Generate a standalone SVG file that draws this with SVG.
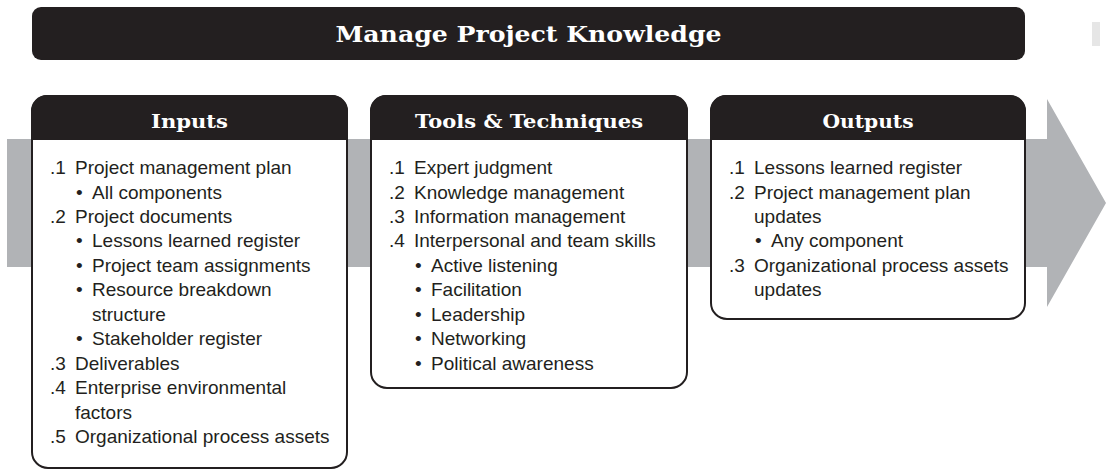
<svg xmlns="http://www.w3.org/2000/svg" width="1106" height="470" viewBox="0 0 1106 470">
<style>
.hd{font-family:"DejaVu Serif","Liberation Serif",serif;font-weight:bold;fill:#fff;text-anchor:middle}
.t{font-family:"Liberation Sans",Arial,sans-serif;font-size:19px;fill:#231f20}
.box{fill:#fff;stroke:#231f20;stroke-width:2}
.hbar{fill:#231f20}
</style>
<rect width="1106" height="470" fill="#fff"/>
<rect x="1092" y="22" width="8" height="24" fill="#e6e6e6"/>
<g id="connectors">
<polygon points="7,139 1047,139 1047,99 1106,203 1047,307 1047,267 7,267" fill="#b1b3b6"/>
</g>
<g id="title">
<rect x="32" y="7" width="993" height="53" rx="9" fill="#231f20"/>
<text class="hd" x="528.5" y="42" font-size="22" textLength="386" lengthAdjust="spacingAndGlyphs">Manage Project Knowledge</text>
</g>
<g id="inputs">
<rect class="box" x="32" y="96" width="315" height="372" rx="16"/>
<path class="hbar" d="M31,140 V112 A16,16 0 0 1 47,95 H332 A16,16 0 0 1 348,112 V140 Z"/>
<text class="hd" x="189.5" y="128" font-size="18" textLength="77" lengthAdjust="spacingAndGlyphs">Inputs</text>
<text class="t" x="50" y="174">.1</text><text class="t" x="75" y="174">Project management plan</text>
<text class="t" x="76" y="198.5">•</text><text class="t" x="92" y="198.5">All components</text>
<text class="t" x="50" y="223">.2</text><text class="t" x="75" y="223">Project documents</text>
<text class="t" x="76" y="247.4">•</text><text class="t" x="92" y="247.4">Lessons learned register</text>
<text class="t" x="76" y="271.8">•</text><text class="t" x="92" y="271.8">Project team assignments</text>
<text class="t" x="76" y="296.3">•</text><text class="t" x="92" y="296.3">Resource breakdown</text>
<text class="t" x="92" y="320.7">structure</text>
<text class="t" x="76" y="345.2">•</text><text class="t" x="92" y="345.2">Stakeholder register</text>
<text class="t" x="50" y="369.6">.3</text><text class="t" x="75" y="369.6">Deliverables</text>
<text class="t" x="50" y="394">.4</text><text class="t" x="75" y="394">Enterprise environmental</text>
<text class="t" x="75" y="418.5">factors</text>
<text class="t" x="50" y="443">.5</text><text class="t" x="75" y="443">Organizational process assets</text>
</g>
<g id="tools">
<rect class="box" x="371" y="96" width="316" height="292" rx="16"/>
<path class="hbar" d="M370,140 V112 A16,16 0 0 1 386,95 H672 A16,16 0 0 1 688,112 V140 Z"/>
<text class="hd" x="529" y="128" font-size="18" textLength="228" lengthAdjust="spacingAndGlyphs">Tools &amp; Techniques</text>
<text class="t" x="389" y="174">.1</text><text class="t" x="414" y="174">Expert judgment</text>
<text class="t" x="389" y="198.5">.2</text><text class="t" x="414" y="198.5">Knowledge management</text>
<text class="t" x="389" y="223">.3</text><text class="t" x="414" y="223">Information management</text>
<text class="t" x="389" y="247.4">.4</text><text class="t" x="414" y="247.4">Interpersonal and team skills</text>
<text class="t" x="415" y="271.8">•</text><text class="t" x="431" y="271.8">Active listening</text>
<text class="t" x="415" y="296.3">•</text><text class="t" x="431" y="296.3">Facilitation</text>
<text class="t" x="415" y="320.7">•</text><text class="t" x="431" y="320.7">Leadership</text>
<text class="t" x="415" y="345.2">•</text><text class="t" x="431" y="345.2">Networking</text>
<text class="t" x="415" y="369.6">•</text><text class="t" x="431" y="369.6">Political awareness</text>
</g>
<g id="outputs">
<rect class="box" x="711" y="96" width="314" height="223" rx="16"/>
<path class="hbar" d="M710,140 V112 A16,16 0 0 1 726,95 H1010 A16,16 0 0 1 1026,112 V140 Z"/>
<text class="hd" x="868" y="128" font-size="18" textLength="91" lengthAdjust="spacingAndGlyphs">Outputs</text>
<text class="t" x="729" y="174">.1</text><text class="t" x="754" y="174">Lessons learned register</text>
<text class="t" x="729" y="198.5">.2</text><text class="t" x="754" y="198.5">Project management plan</text>
<text class="t" x="754" y="223">updates</text>
<text class="t" x="755" y="247.4">•</text><text class="t" x="771" y="247.4">Any component</text>
<text class="t" x="729" y="271.8">.3</text><text class="t" x="754" y="271.8">Organizational process assets</text>
<text class="t" x="754" y="296.3">updates</text>
</g>
</svg>
